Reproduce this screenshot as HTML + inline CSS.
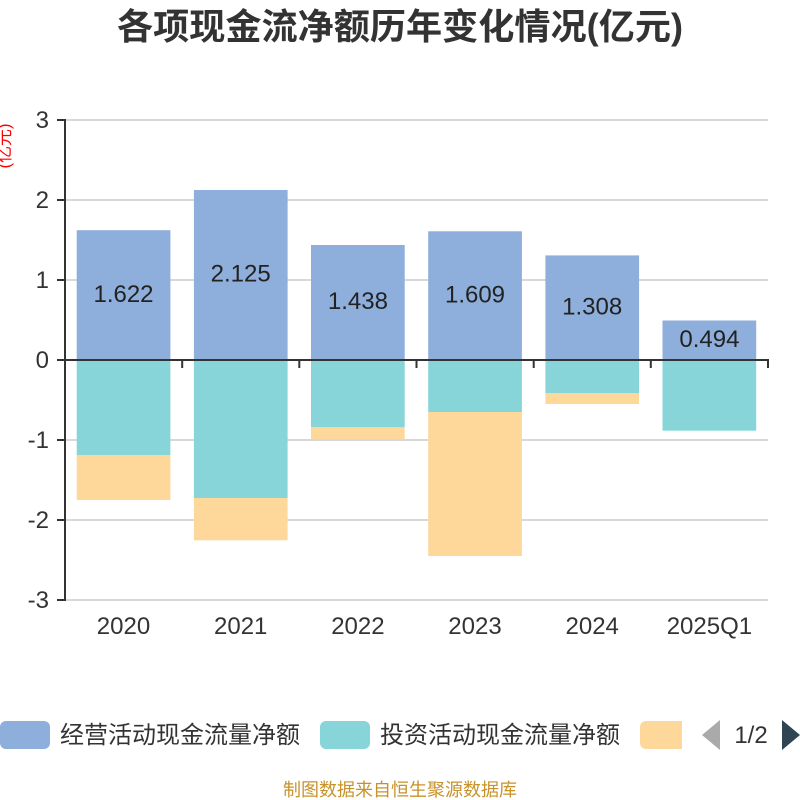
<!DOCTYPE html>
<html><head><meta charset="utf-8"><style>
html,body{margin:0;padding:0;background:#fff;}
svg{display:block;}
text{font-family:"Liberation Sans","Noto Sans CJK SC",sans-serif;}
</style></head><body>
<svg width="800" height="800" viewBox="0 0 800 800" xmlns="http://www.w3.org/2000/svg">
<rect width="800" height="800" fill="#fff"/>
<text x="400" y="39" text-anchor="middle" font-size="36" font-weight="bold" fill="#333" textLength="566" lengthAdjust="spacingAndGlyphs">各项现金流净额历年变化情况(亿元)</text>
<text transform="translate(10,146) rotate(-90)" text-anchor="middle" font-size="17" fill="#ff0000" textLength="45" lengthAdjust="spacingAndGlyphs">(亿元)</text>
<!-- grid -->
<g stroke="#ccc" stroke-width="1.5">
<line x1="65" y1="120" x2="768" y2="120"/>
<line x1="65" y1="200" x2="768" y2="200"/>
<line x1="65" y1="280" x2="768" y2="280"/>
<line x1="65" y1="440" x2="768" y2="440"/>
<line x1="65" y1="520" x2="768" y2="520"/>
<line x1="65" y1="600" x2="768" y2="600"/>
</g>
<!-- bars -->
<g>
<rect x="76.7" y="230.2" width="93.7" height="129.8" fill="#8eaedb"/>
<rect x="76.7" y="360" width="93.7" height="95" fill="#87d5d8"/>
<rect x="76.7" y="455" width="93.7" height="45" fill="#fed89a"/>

<rect x="193.9" y="190" width="93.7" height="170" fill="#8eaedb"/>
<rect x="193.9" y="360" width="93.7" height="138" fill="#87d5d8"/>
<rect x="193.9" y="498" width="93.7" height="42.3" fill="#fed89a"/>

<rect x="311" y="245" width="93.7" height="115" fill="#8eaedb"/>
<rect x="311" y="360" width="93.7" height="67.3" fill="#87d5d8"/>
<rect x="311" y="427.3" width="93.7" height="11.7" fill="#fed89a"/>

<rect x="428.2" y="231.3" width="93.7" height="128.7" fill="#8eaedb"/>
<rect x="428.2" y="360" width="93.7" height="52" fill="#87d5d8"/>
<rect x="428.2" y="412" width="93.7" height="144" fill="#fed89a"/>

<rect x="545.4" y="255.4" width="93.7" height="104.6" fill="#8eaedb"/>
<rect x="545.4" y="360" width="93.7" height="33.3" fill="#87d5d8"/>
<rect x="545.4" y="393.3" width="93.7" height="10.7" fill="#fed89a"/>

<rect x="662.5" y="320.5" width="93.7" height="39.5" fill="#8eaedb"/>
<rect x="662.5" y="360" width="93.7" height="70.7" fill="#87d5d8"/>
</g>
<!-- value labels -->
<g font-size="24" fill="#222" text-anchor="middle">
<text x="123.5" y="301.8">1.622</text>
<text x="240.7" y="281.7">2.125</text>
<text x="357.9" y="309.2">1.438</text>
<text x="475" y="302.3">1.609</text>
<text x="592.2" y="314.4">1.308</text>
<text x="709.4" y="346.9">0.494</text>
</g>
<!-- axes -->
<g stroke="#333" stroke-width="2">
<line x1="65" y1="119" x2="65" y2="601"/>
<line x1="57" y1="120" x2="65" y2="120"/>
<line x1="57" y1="200" x2="65" y2="200"/>
<line x1="57" y1="280" x2="65" y2="280"/>
<line x1="57" y1="360" x2="65" y2="360"/>
<line x1="57" y1="440" x2="65" y2="440"/>
<line x1="57" y1="520" x2="65" y2="520"/>
<line x1="57" y1="600" x2="65" y2="600"/>
<line x1="64" y1="360" x2="769" y2="360"/>
<line x1="182.2" y1="360" x2="182.2" y2="368"/>
<line x1="299.3" y1="360" x2="299.3" y2="368"/>
<line x1="416.5" y1="360" x2="416.5" y2="368"/>
<line x1="533.7" y1="360" x2="533.7" y2="368"/>
<line x1="650.8" y1="360" x2="650.8" y2="368"/>
<line x1="768" y1="360" x2="768" y2="368"/>
</g>
<g font-size="24" fill="#333" text-anchor="end">
<text x="49" y="128">3</text>
<text x="49" y="208">2</text>
<text x="49" y="288">1</text>
<text x="49" y="368">0</text>
<text x="49" y="448">-1</text>
<text x="49" y="528">-2</text>
<text x="49" y="608">-3</text>
</g>
<g font-size="24" fill="#333" text-anchor="middle">
<text x="123.5" y="634">2020</text>
<text x="240.7" y="634">2021</text>
<text x="357.9" y="634">2022</text>
<text x="475" y="634">2023</text>
<text x="592.2" y="634">2024</text>
<text x="709.4" y="634">2025Q1</text>
</g>
<!-- legend -->
<rect x="0" y="721" width="50" height="28" rx="6" fill="#8eaedb"/>
<text x="60" y="743" font-size="24" fill="#333" textLength="240" lengthAdjust="spacingAndGlyphs">经营活动现金流量净额</text>
<rect x="320" y="721" width="50" height="28" rx="6" fill="#87d5d8"/>
<text x="380" y="743" font-size="24" fill="#333" textLength="240" lengthAdjust="spacingAndGlyphs">投资活动现金流量净额</text>
<rect x="640" y="721" width="50" height="28" rx="6" fill="#fed89a"/>
<rect x="682" y="715" width="18" height="40" fill="#fff"/>
<polygon points="720,720 702,735 720,750" fill="#aaa"/>
<text x="751" y="743" font-size="24" fill="#333" text-anchor="middle">1/2</text>
<polygon points="782,720 800,735 782,750" fill="#2f4554"/>
<text x="400" y="796" font-size="18" fill="#c8922a" text-anchor="middle" textLength="234" lengthAdjust="spacingAndGlyphs">制图数据来自恒生聚源数据库</text>
</svg>
</body></html>
